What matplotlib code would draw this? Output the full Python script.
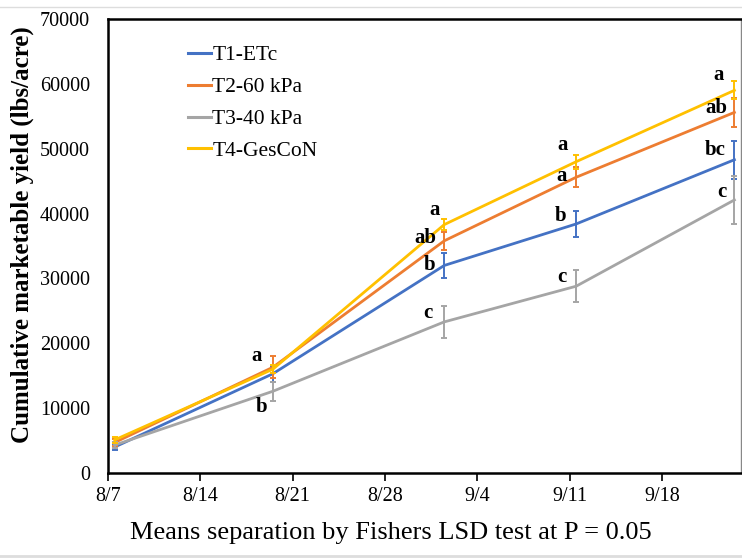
import matplotlib
matplotlib.use("Agg")
import matplotlib.pyplot as plt
from matplotlib.lines import Line2D
import pandas as pd

# Harvest dates and cumulative marketable yield (lbs/acre)
dates = ["2023-08-07", "2023-08-19", "2023-09-01", "2023-09-11", "2023-09-23"]
series_names = ["T1-ETc", "T2-60 kPa", "T3-40 kPa", "T4-GesCoN"]
t1_yield = [4000, 15300, 32000, 38400, 48300]
t2_yield = [4700, 16300, 35800, 45600, 55600]
t3_yield = [4300, 12600, 23300, 28800, 42100]
t4_yield = [5100, 16000, 38300, 48000, 59000]
t1_err = [500, 1200, 1900, 1950, 2900]
t2_err = [600, 1700, 1400, 1550, 2200]
t3_err = [500, 1450, 2450, 2450, 3700]
t4_err = [500, 600, 800, 1100, 1400]
# Fisher's LSD letters per harvest (empty = no letter shown)
t1_letters = ["", "", "b", "b", "bc"]
t2_letters = ["", "a", "ab", "a", "ab"]
t3_letters = ["", "b", "c", "c", "c"]
t4_letters = ["", "", "a", "a", "a"]
tick_labels = ["8/7", "8/14", "8/21", "8/28", "9/4", "9/11", "9/18"]

colors = ["#4472C4", "#ED7D31", "#A5A5A5", "#FFC000"]
# letter offsets in pixels from each point (dx, dy)
offsets = [
    [None, None, (-15, 0), (-16, 8), (-19, 10)],
    [None, (-16, 11), (-19, 3), (-15, 1), (-18, 4)],
    [None, (-11, -16), (-16, 9), (-14, 9), (-13, 8)],
    [None, None, (-10, 15), (-14, 17), (-16, 15)],
]

start = pd.Timestamp(dates[0])
# each date sits in the middle of its day slot
x = [(pd.Timestamp(d) - start).days + 0.5 for d in dates]

plt.rcParams["font.family"] = ["Liberation Serif", "DejaVu Serif"]

fig = plt.figure(figsize=(7.42, 5.58), dpi=100)
ax = fig.add_axes([108 / 742, 1 - 473 / 558, 633 / 742, 454 / 558])

ys = [t1_yield, t2_yield, t3_yield, t4_yield]
es = [t1_err, t2_err, t3_err, t4_err]
ls = [t1_letters, t2_letters, t3_letters, t4_letters]

draw_order = [2, 0, 1, 3]
for i in draw_order:
    ax.errorbar(x, ys[i], yerr=es[i], color=colors[i], lw=2.0, elinewidth=1.4,
                capsize=2.5, capthick=1.4, zorder=3 + i)
for i in range(4):
    for xi, yi, lab, off in zip(x, ys[i], ls[i], offsets[i]):
        if lab:
            ax.annotate(lab, (xi, yi), xytext=off, textcoords="offset pixels",
                        ha="center", va="center", fontsize=15, fontweight="bold",
                        color="black", zorder=10)

ax.set_xlim(0, 48)
ax.set_ylim(0, 70000)
ax.set_xticks(range(0, 43, 7))
ax.set_xticklabels(tick_labels)
ax.set_yticks(range(0, 70001, 10000))
ax.tick_params(axis="x", direction="out", length=6, width=1.2, pad=4,
               labelsize=14.5)
ax.tick_params(axis="y", length=0, pad=13, labelsize=14.5)
for side in ["left", "bottom", "top"]:
    ax.spines[side].set_linewidth(1.8)
    ax.spines[side].set_color("black")
ax.spines["right"].set_linewidth(1.0)
ax.spines["right"].set_color("#888888")

ax.set_ylabel("Cumulative marketable yield (lbs/acre)", fontsize=18,
              fontweight="bold", va="center")
ax.yaxis.set_label_coords(-86 / 633, 238 / 454)
ax.set_xlabel("Means separation by Fishers LSD test at P = 0.05", fontsize=19,
              va="center")
ax.xaxis.set_label_coords(283 / 633, -60 / 454)

handles = [Line2D([], [], color=c, lw=2.2) for c in colors]
ax.legend(handles, series_names, loc="upper left", bbox_to_anchor=(0.095, 0.985),
          frameon=False, fontsize=15.5, handlelength=1.1, handletextpad=0.05,
          labelspacing=0.55)

# thin frame lines of the page
fig.add_artist(Line2D([0, 1], [1 - 7 / 558, 1 - 7 / 558], color="#dddddd", lw=1,
                      transform=fig.transFigure))
fig.add_artist(Line2D([0, 1], [1 - 556 / 558, 1 - 556 / 558], color="#dddddd",
                      lw=2, transform=fig.transFigure))

fig.savefig("out.png", dpi=100)
